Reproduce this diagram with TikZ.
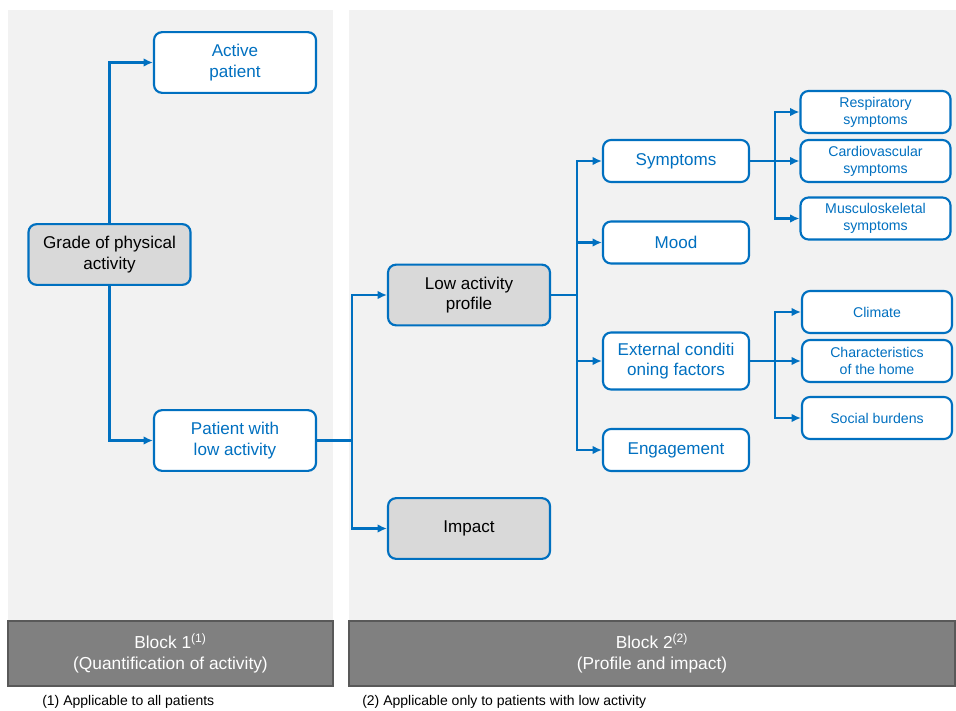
\documentclass[tikz,border=0pt]{standalone}
\usepackage{fontspec}
\setmainfont{Liberation Sans}
\usetikzlibrary{positioning,arrows.meta}
\definecolor{boxblue}{RGB}{0,112,192}
\definecolor{panelgray}{RGB}{242,242,242}
\definecolor{nodegray}{RGB}{217,217,217}
\definecolor{blockgray}{RGB}{128,128,128}
\tikzstyle{box}=[rectangle, rounded corners=6pt, draw=boxblue, line width=1.6pt, fill=white, text=boxblue, align=center, inner sep=2pt]
\tikzstyle{bigbox}=[box, minimum width=121.5pt, minimum height=45.5pt, font=\fontsize{12.8}{15.5}\selectfont]
\tikzstyle{graybox}=[bigbox, fill=nodegray, text=black]
\tikzstyle{midbox}=[box, minimum width=109.5pt, minimum height=31.5pt, font=\fontsize{12.8}{15.5}\selectfont]
\tikzstyle{smallbox}=[box, minimum width=112.5pt, minimum height=31.5pt, font=\fontsize{10.6}{12.8}\selectfont]
\tikzstyle{blockbox}=[rectangle, draw=black!65, fill=blockgray, text=white, align=center, minimum height=48.75pt, font=\fontsize{13}{16}\selectfont, line width=0.8pt]
\tikzstyle{note}=[anchor=west, inner sep=0pt, font=\fontsize{10.5}{12}\selectfont]
\tikzstyle{link}=[draw=boxblue, line width=1.6pt]
\tikzstyle{arr}=[link, -{Latex[length=7pt,width=6.5pt]}]

\begin{document}
\begin{tikzpicture}[x=0.75pt,y=-0.75pt]
	\useasboundingbox (0,0) rectangle (956,710);
	\fill[white] (0,0) rectangle (956,710);
	% panels
	\fill[panelgray] (8,10) rectangle (333,620);
	\fill[panelgray] (349,10) rectangle (956,620);
	\node[blockbox, minimum width=243.75pt] (b1) at (170.5,653.5) {Block 1\textsuperscript{(1)}\\(Quantification of activity)};
	\node[blockbox, minimum width=454.5pt] (b2) at (652,653.5) {Block 2\textsuperscript{(2)}\\(Profile and impact)};
	\node[note] (n1) at (42,702) {(1) Applicable to all patients};
	\node[note] (n2) at (362,702) {(2) Applicable only to patients with low activity};
	% block 1
	\node[graybox] (grade) at (109.5,254.5) {Grade of physical\\activity};
	\node[bigbox] (act) at (235,62.5) {Active\\patient};
	\node[bigbox] (low) at (235,440.5) {Patient with\\low activity};
	% block 2
	\node[graybox] (prof) at (469,295) {Low activity\\profile};
	\node[graybox] (imp) at (469,528.5) {Impact};
	\node[midbox] (sym) at (676,161) {Symptoms};
	\node[midbox] (mood) at (676,242.5) {Mood};
	\node[midbox, minimum height=42.75pt] (ext) at (676,361) {External conditi\\oning factors};
	\node[midbox] (eng) at (676,450) {Engagement};
	\node[smallbox] (resp) at (875.5,112) {Respiratory\\symptoms};
	\node[smallbox] (cardio) at (875.5,161) {Cardiovascular\\symptoms};
	\node[smallbox] (musc) at (875.5,218.5) {Musculoskeletal\\symptoms};
	\node[smallbox] (clim) at (877,312) {Climate};
	\node[smallbox] (home) at (877,361) {Characteristics\\of the home};
	\node[smallbox] (soc) at (877,418) {Social burdens};
	\coordinate (j1) at (352,440.5);
	\coordinate (j2) at (577,295);
	\coordinate (j3) at (775,161);
	\coordinate (j4) at (775,361);
	\draw[arr] (grade.north) |- (act.west);
	\draw[arr] (grade.south) |- (low.west);
	\draw[link] (low.east) -- (j1);
	\draw[arr] (j1) |- (prof.west);
	\draw[arr] (j1) |- (imp.west);
	\draw[link] (prof.east) -- (j2);
	\draw[arr] (j2) |- (sym.west);
	\draw[arr] (j2) |- (mood.west);
	\draw[arr] (j2) |- (ext.west);
	\draw[arr] (j2) |- (eng.west);
	\draw[arr] (sym.east) -- (cardio.west);
	\draw[arr] (j3) |- (resp.west);
	\draw[arr] (j3) |- (musc.west);
	\draw[arr] (ext.east) -- (home.west);
	\draw[arr] (j4) |- (clim.west);
	\draw[arr] (j4) |- (soc.west);
\end{tikzpicture}
\end{document}
